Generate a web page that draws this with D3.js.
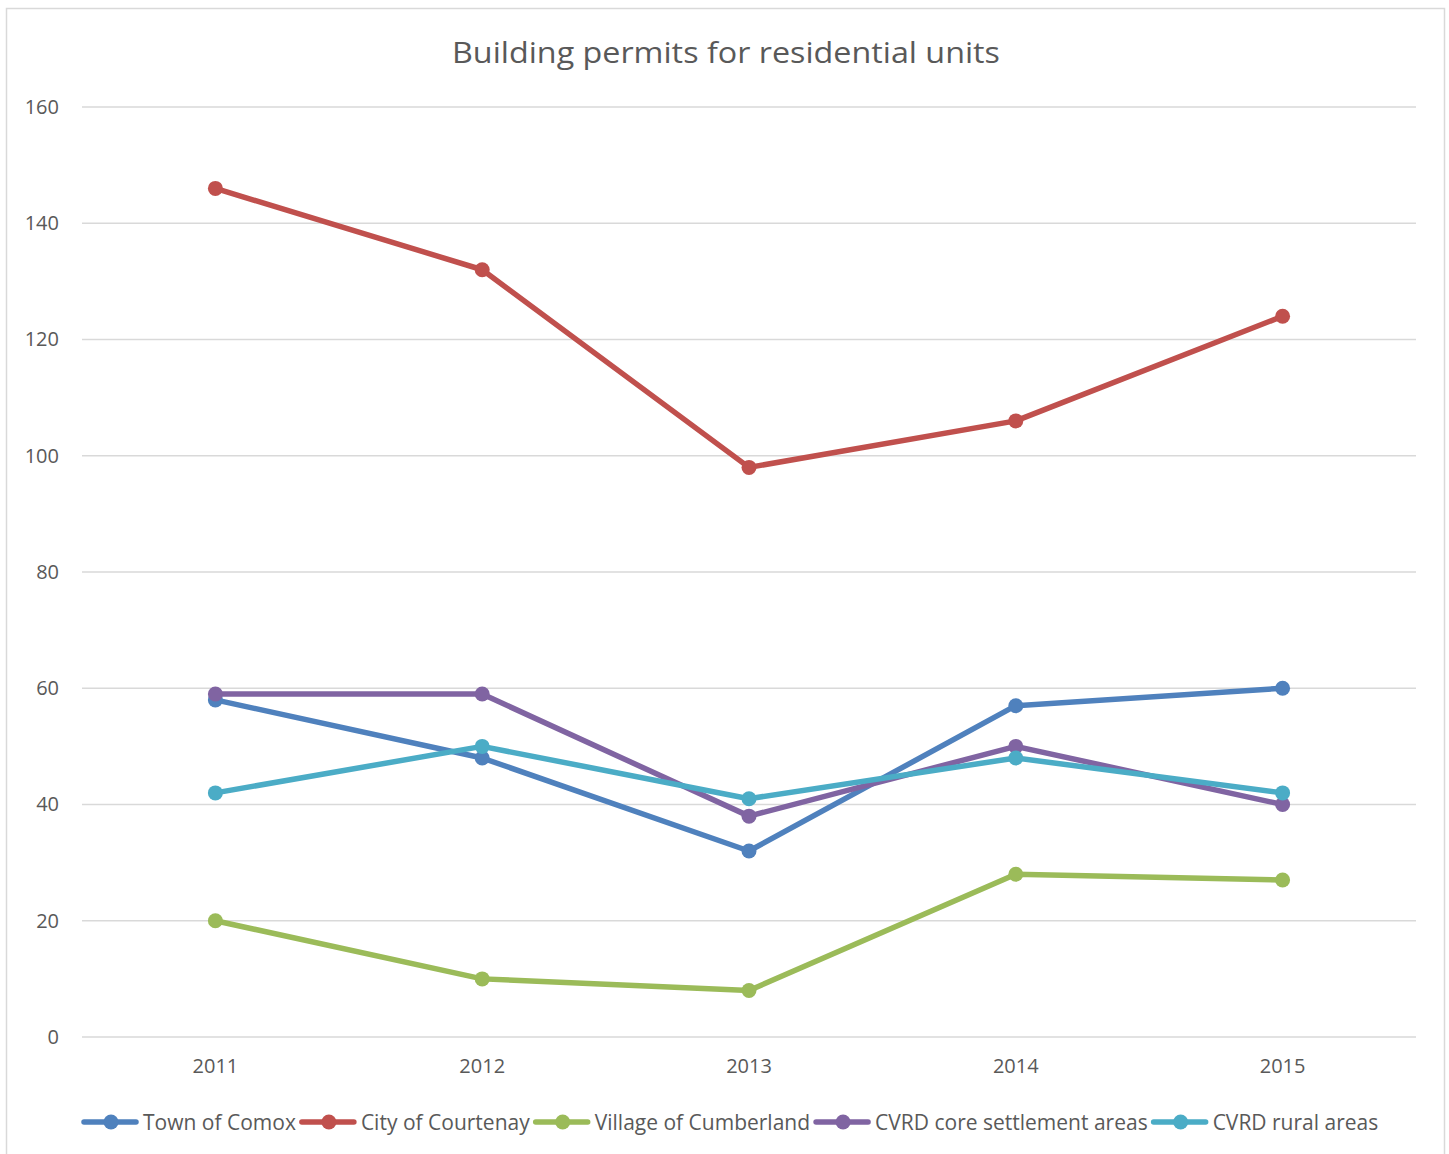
<!DOCTYPE html>
<html><head><meta charset="utf-8">
<script src="https://d3js.org/d3.v7.min.js"></script>
<style>body{margin:0;background:#fff;} svg{display:block;}</style>
</head><body>
<script>
const years = ["2011","2012","2013","2014","2015"];
const seriesNames = ["Town of Comox","City of Courtenay","Village of Cumberland","CVRD core settlement areas","CVRD rural areas"];
const comox = [58,48,32,57,60];
const courtenay = [146,132,98,106,124];
const cumberland = [20,10,8,28,27];
const cvrdCore = [59,59,38,50,40];
const cvrdRural = [42,50,41,48,42];
const yTicks = [0,20,40,60,80,100,120,140,160];
const colors = ["#4F81BD","#C0504D","#9BBB59","#8064A2","#4BACC6"];
const allValues = [comox,courtenay,cumberland,cvrdCore,cvrdRural];

const W=1449,H=1154;
const font = "'Open Sans', sans-serif";
const svg = d3.select("body").append("svg").attr("width",W).attr("height",H);
svg.append("rect").attr("x",6.5).attr("y",8.5).attr("width",1438).attr("height",1150).attr("fill","#fff").attr("stroke","#d9d9d9").attr("stroke-width",1.5);

const x = d3.scaleBand().domain(years).range([82,1416]);
const y = d3.scaleLinear().domain([0,160]).range([1037,107]);

svg.append("text").attr("x",726).attr("y",63).attr("text-anchor","middle")
  .attr("font-family",font).attr("font-size",29).attr("fill","#595959")
  .attr("textLength",548).attr("lengthAdjust","spacingAndGlyphs")
  .text("Building permits for residential units");

const grid = svg.append("g");
grid.selectAll("line").data(yTicks).join("line")
  .attr("x1",82).attr("x2",1416).attr("y1",d=>y(d)).attr("y2",d=>y(d))
  .attr("stroke","#d9d9d9").attr("stroke-width",1.5);

const yAxis = svg.append("g").attr("transform","translate(72,0)")
  .call(d3.axisLeft(y).tickValues(yTicks).tickSize(0).tickPadding(12));
yAxis.select(".domain").remove();
yAxis.selectAll("text").attr("font-family",font).attr("font-size",20).attr("fill","#595959").attr("x",-13);

const xAxis = svg.append("g").attr("transform","translate(0,1037)")
  .call(d3.axisBottom(x).tickSize(0).tickPadding(22));
xAxis.select(".domain").remove();
xAxis.selectAll("text").attr("font-family",font).attr("font-size",20).attr("fill","#595959");

const line = d3.line().x((d,i)=>x(years[i])+x.bandwidth()/2).y(d=>y(d));
allValues.forEach((vals,k)=>{
  const g = svg.append("g");
  g.append("path").datum(vals).attr("d",line).attr("fill","none")
    .attr("stroke",colors[k]).attr("stroke-width",5.5).attr("stroke-linejoin","round").attr("stroke-linecap","round");
  g.selectAll("circle").data(vals).join("circle")
    .attr("cx",(d,i)=>x(years[i])+x.bandwidth()/2).attr("cy",d=>y(d)).attr("r",7.5).attr("fill",colors[k]);
});

// legend
const legend = svg.append("g").attr("transform","translate(84,1122)");
let lx = 0;
seriesNames.forEach((name,k)=>{
  const g = legend.append("g").attr("transform",`translate(${lx},0)`);
  g.append("line").attr("x1",0).attr("x2",52).attr("y1",0).attr("y2",0).attr("stroke",colors[k]).attr("stroke-width",5.5).attr("stroke-linecap","round");
  g.append("circle").attr("cx",27).attr("cy",0).attr("r",7.5).attr("fill",colors[k]);
  const t = g.append("text").attr("x",59).attr("y",7.5).attr("font-family",font).attr("font-size",21).attr("fill","#595959").text(name);
  lx += 59 + t.node().getComputedTextLength() + 6;
});
</script>
</body></html>
